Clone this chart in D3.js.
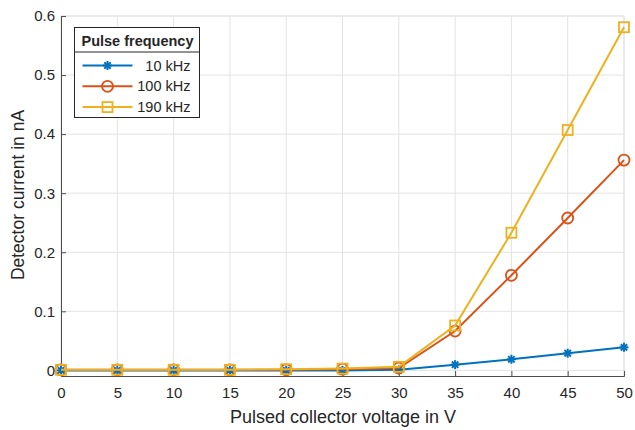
<!DOCTYPE html>
<html>
<head>
<meta charset="utf-8">
<script src="https://cdn.jsdelivr.net/npm/d3@7"></script>
<style>
  body { margin: 0; background: #fff; }
  text { font-family: "Liberation Sans", Arial, sans-serif; fill: #262626; }
</style>
</head>
<body>
<div id="chart"></div>
<script>
// Data
const voltages = [0, 5, 10, 15, 20, 25, 30, 35, 40, 45, 50]
const current10k = [0, 0, 0, 0, 0, 0, 0.001, 0.0097, 0.0188, 0.029, 0.039]
const current100k = [0.001, 0.001, 0.001, 0.001, 0.001, 0.002, 0.004, 0.0666, 0.161, 0.258, 0.356]
const current190k = [0.001, 0.001, 0.001, 0.001, 0.002, 0.003, 0.006, 0.076, 0.233, 0.407, 0.581]
const seriesNames = ['10 kHz', '100 kHz', '190 kHz']
const xTicks = [0, 5, 10, 15, 20, 25, 30, 35, 40, 45, 50]
const yTicks = [0, 0.1, 0.2, 0.3, 0.4, 0.5, 0.6]

const width = 635,
  height = 430
const margin = { left: 61, right: 11, top: 16, bottom: 54 }

const colors = ['#0072BD', '#D95319', '#EDB120']
const markers = ['star', 'circle', 'square']

const svg = d3.select('#chart')
  .append('svg')
  .attr('width', width)
  .attr('height', height)

const x = d3.scaleLinear()
  .domain([0, 50])
  .range([margin.left, width - margin.right])

const y = d3.scaleLinear()
  .domain([-0.0095, 0.6])
  .range([height - margin.bottom, margin.top])

// grid
svg.append('g')
  .selectAll('line')
  .data(xTicks)
  .enter()
  .append('line')
  .attr('x1', d => x(d)).attr('x2', d => x(d))
  .attr('y1', y.range()[0]).attr('y2', y.range()[1])
  .attr('stroke', '#e3e3e3')
  .attr('stroke-width', 1)

svg.append('g')
  .selectAll('line')
  .data(yTicks)
  .enter()
  .append('line')
  .attr('x1', x.range()[0]).attr('x2', x.range()[1])
  .attr('y1', d => y(d)).attr('y2', d => y(d))
  .attr('stroke', '#e3e3e3')
  .attr('stroke-width', 1)

// box top/right in grid colour
svg.append('line')
  .attr('x1', x.range()[0]).attr('x2', x.range()[1])
  .attr('y1', y.range()[1]).attr('y2', y.range()[1])
  .attr('stroke', '#e3e3e3')
svg.append('line')
  .attr('x1', x.range()[1]).attr('x2', x.range()[1])
  .attr('y1', y.range()[0]).attr('y2', y.range()[1])
  .attr('stroke', '#e3e3e3')

// axes
const xAxis = svg.append('g')
  .attr('transform', `translate(0, ${y.range()[0]})`)
  .call(d3.axisBottom(x).tickValues(xTicks).tickSize(-5).tickPadding(11).tickFormat(d3.format('d')))
const yAxis = svg.append('g')
  .attr('transform', `translate(${x.range()[0]}, 0)`)
  .call(d3.axisLeft(y).tickValues(yTicks).tickSize(-5).tickPadding(6).tickFormat(d => d === 0 ? '0' : d3.format('.1f')(d)))

;[xAxis, yAxis].forEach(a => {
  a.select('.domain').attr('stroke', '#4d4d4d').attr('stroke-width', 1)
  a.selectAll('.tick line').attr('stroke', '#4d4d4d')
  a.selectAll('.tick text').attr('font-size', 15).attr('fill', '#262626')
})

// axis labels
svg.append('text')
  .attr('x', 343)
  .attr('y', 423)
  .attr('text-anchor', 'middle')
  .attr('font-size', 18)
  .text('Pulsed collector voltage in V')

svg.append('text')
  .attr('transform', `translate(24, 195) rotate(-90)`)
  .attr('text-anchor', 'middle')
  .attr('font-size', 17.5)
  .text('Detector current in nA')

// marker drawer
let drawMarker = (g, type, color) => {
  if (type === 'star') {
    const r = 4.5
    ;[0, 45, 90, 135].forEach(a => {
      const rad = a * Math.PI / 180
      g.append('line')
        .attr('x1', -r * Math.cos(rad)).attr('y1', -r * Math.sin(rad))
        .attr('x2', r * Math.cos(rad)).attr('y2', r * Math.sin(rad))
        .attr('stroke', color).attr('stroke-width', 2)
    })
  } else if (type === 'circle') {
    g.append('circle').attr('r', 5.5)
      .attr('fill', 'none').attr('stroke', color).attr('stroke-width', 1.8)
  } else {
    g.append('rect').attr('x', -5).attr('y', -5).attr('width', 10).attr('height', 10)
      .attr('fill', 'none').attr('stroke', color).attr('stroke-width', 1.8)
  }
}

const allSeries = [current10k, current100k, current190k]
const line = d3.line()
  .x((d, i) => x(voltages[i]))
  .y(d => y(d))

// draw in MATLAB order: first series at bottom
allSeries.forEach((vals, s) => {
  const g = svg.append('g')
  g.append('path')
    .datum(vals)
    .attr('d', line)
    .attr('fill', 'none')
    .attr('stroke', colors[s])
    .attr('stroke-width', 2)
  vals.forEach((v, i) => {
    const m = g.append('g').attr('transform', `translate(${x(voltages[i])}, ${y(v)})`)
    drawMarker(m, markers[s], colors[s])
  })
})

// legend
const lg = svg.append('g').attr('transform', 'translate(74.5, 27.5)')
lg.append('rect')
  .attr('width', 125).attr('height', 90)
  .attr('fill', '#fff').attr('stroke', '#262626').attr('stroke-width', 1)
lg.append('line')
  .attr('x1', 0).attr('x2', 125).attr('y1', 24.5).attr('y2', 24.5)
  .attr('stroke', '#262626')
lg.append('text')
  .attr('x', 63).attr('y', 18.5)
  .attr('text-anchor', 'middle')
  .attr('font-size', 14.5)
  .attr('font-weight', 'bold')
  .attr('fill', '#000')
  .text('Pulse frequency')

seriesNames.forEach((name, s) => {
  const yy = 38 + s * 20.8
  lg.append('line')
    .attr('x1', 8).attr('x2', 58).attr('y1', yy).attr('y2', yy)
    .attr('stroke', colors[s]).attr('stroke-width', 2)
  const m = lg.append('g').attr('transform', `translate(33, ${yy})`)
  drawMarker(m, markers[s], colors[s])
  lg.append('text')
    .attr('x', 116).attr('y', yy + 5)
    .attr('text-anchor', 'end')
    .attr('font-size', 14.5)
    .text(name)
})
</script>
</body>
</html>
